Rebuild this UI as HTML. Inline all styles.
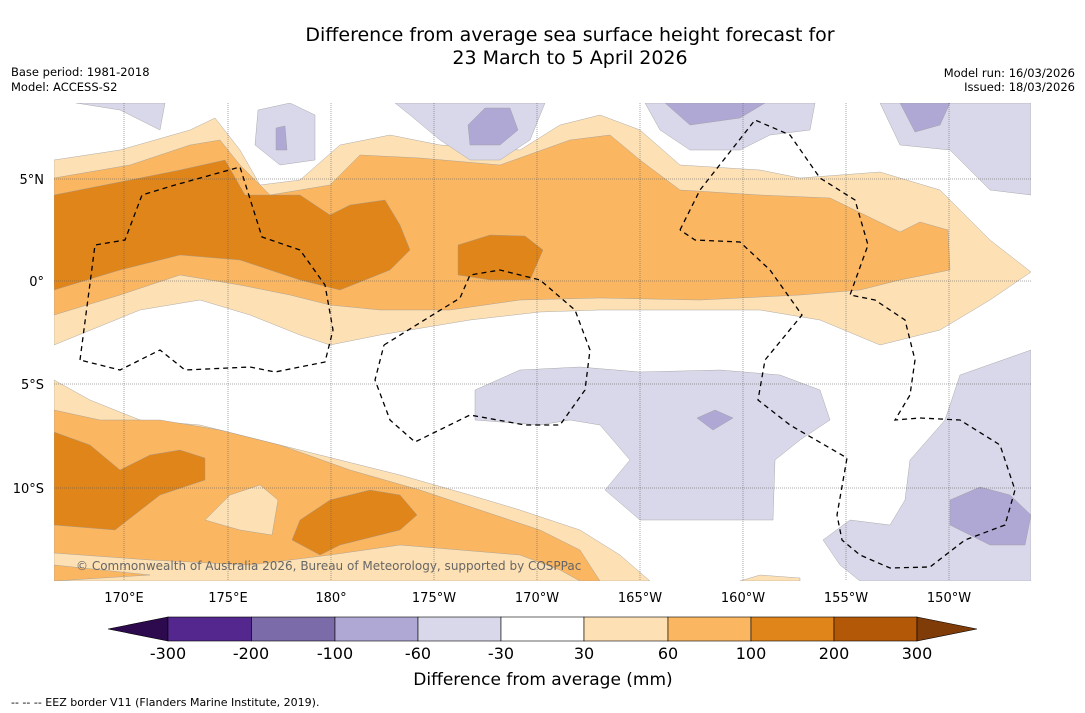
<!DOCTYPE html>
<html><head><meta charset="utf-8"><style>
body{margin:0;background:#fff;width:1085px;height:713px;overflow:hidden;font-family:"DejaVu Sans","Liberation Sans",sans-serif}
svg{position:absolute;left:0;top:0}
</style></head><body>
<svg width="1085" height="713" viewBox="0 0 1085 713">
<text x="570" y="41" font-size="19" text-anchor="middle">Difference from average sea surface height forecast for</text>
<text x="570" y="64" font-size="19" text-anchor="middle">23 March to 5 April 2026</text>
<text x="11" y="76" font-size="11.5">Base period: 1981-2018</text>
<text x="11" y="91" font-size="11.5">Model: ACCESS-S2</text>
<text x="1075" y="77" font-size="11.5" text-anchor="end">Model run: 16/03/2026</text>
<text x="1075" y="91" font-size="11.5" text-anchor="end">Issued: 18/03/2026</text>
<defs><clipPath id="mc"><rect x="54" y="103" width="977" height="478"/></clipPath></defs>
<g clip-path="url(#mc)" stroke="#999" stroke-width="0.4">
<rect x="54" y="103" width="977" height="478" fill="#fff" stroke="none"/>
<path fill="#fde0b4" d="M54,160 L120,150 L190,130 L215,118 L240,150 L260,185 L300,180 L340,145 L390,135 L440,145 L520,150 L560,125 L600,115 L640,130 L680,165 L760,170 L800,178 L880,172 L940,190 L990,240 L1031,272 L990,300 L940,330 L880,345 L820,320 L760,310 L680,310 L600,310 L540,312 L470,320 L380,335 L330,345 L300,335 L250,315 L200,300 L140,310 L54,345Z"/>
<path fill="#fbb661" d="M54,178 L130,165 L190,145 L220,140 L240,165 L270,195 L330,185 L360,155 L420,158 L500,165 L570,140 L610,135 L640,160 L680,190 L760,195 L830,198 L900,232 L920,222 L948,230 L950,270 L900,280 L860,290 L800,295 L700,300 L600,298 L520,300 L450,310 L380,310 L330,305 L290,295 L240,285 L180,275 L120,295 L54,315Z"/>
<path fill="#e08519" d="M54,195 L130,180 L180,170 L225,160 L245,195 L300,195 L330,215 L350,205 L385,200 L400,225 L410,250 L390,270 L340,290 L300,280 L240,260 L180,255 L120,270 L54,290Z"/>
<path fill="#e08519" d="M458,245 L490,235 L525,236 L543,250 L530,280 L490,280 L458,275Z"/>
<path fill="#fde0b4" d="M54,380 L90,400 L140,420 L200,425 L260,440 L340,460 L400,475 L470,495 L520,510 L580,530 L620,555 L650,581 L54,581Z"/>
<path fill="#fbb661" d="M54,410 L100,420 L160,420 L220,430 L280,445 L350,470 L420,490 L480,510 L540,530 L580,550 L600,581 L54,581Z"/>
<path fill="#fde0b4" d="M54,553 L150,560 L250,565 L330,555 L400,545 L460,550 L520,555 L560,570 L580,581 L54,581Z"/>
<path fill="#fbb661" d="M54,565 L150,575 L54,581Z"/>
<path fill="#e08519" d="M54,432 L90,445 L120,470 L150,455 L180,450 L205,458 L205,480 L160,495 L115,530 L54,525Z"/>
<path fill="#e08519" d="M292,540 L300,520 L330,500 L370,490 L400,495 L417,515 L400,530 L340,545 L320,555Z"/>
<path fill="#fde0b4" d="M205,520 L230,495 L260,485 L278,500 L272,535 L240,530Z"/>
<path fill="#fde0b4" d="M740,581 L760,575 L800,578 L800,581Z"/>
<path fill="#d8d8ea" d="M76,103 L165,103 L160,130 L120,110Z"/>
<path fill="#d8d8ea" d="M258,110 L290,103 L315,115 L315,160 L280,165 L255,145Z"/>
<path fill="#b0a8d4" d="M276,128 L285,126 L287,150 L276,150Z"/>
<path fill="#d8d8ea" d="M395,103 L545,103 L530,140 L500,160 L470,160 L440,140 L410,115Z"/>
<path fill="#b0a8d4" d="M468,125 L485,108 L510,108 L518,130 L500,145 L470,145Z"/>
<path fill="#d8d8ea" d="M645,103 L815,103 L810,130 L770,135 L740,150 L690,150 L660,130Z"/>
<path fill="#b0a8d4" d="M665,103 L765,103 L740,118 L690,125Z"/>
<path fill="#d8d8ea" d="M880,103 L1031,103 L1031,195 L990,190 L950,150 L900,145Z"/>
<path fill="#b0a8d4" d="M900,103 L950,103 L940,125 L915,132Z"/>
<path fill="#d8d8ea" d="M475,390 L520,370 L580,367 L640,372 L720,370 L780,375 L820,390 L830,420 L800,440 L775,460 L773,520 L700,520 L640,520 L605,490 L630,460 L600,425 L570,420 L540,425 L475,420Z"/>
<path fill="#b0a8d4" d="M697,418 L715,410 L733,418 L713,430Z"/>
<path fill="#d8d8ea" d="M823,540 L850,520 L890,525 L905,500 L910,460 L945,420 L960,375 L1031,350 L1031,581 L860,581 L840,565Z"/>
<path fill="#b0a8d4" d="M950,500 L980,487 L1010,495 L1031,515 L1025,545 L990,545 L950,525Z"/>
</g>
<g stroke="#555" stroke-width="0.5" stroke-dasharray="1,1">
<line x1="124" y1="103" x2="124" y2="581"/><line x1="228" y1="103" x2="228" y2="581"/><line x1="331" y1="103" x2="331" y2="581"/><line x1="434" y1="103" x2="434" y2="581"/><line x1="537" y1="103" x2="537" y2="581"/><line x1="640" y1="103" x2="640" y2="581"/><line x1="743" y1="103" x2="743" y2="581"/><line x1="846" y1="103" x2="846" y2="581"/><line x1="949" y1="103" x2="949" y2="581"/>
<line x1="54" y1="179" x2="1031" y2="179"/><line x1="54" y1="281" x2="1031" y2="281"/><line x1="54" y1="384" x2="1031" y2="384"/><line x1="54" y1="488" x2="1031" y2="488"/>
</g>
<g fill="none" stroke="#000" stroke-width="1.3" stroke-dasharray="5,4">
<path d="M80,360 L95,245 L125,240 L142,195 L175,185 L240,167 L262,237 L300,250 L325,285 L333,330 L325,362 L275,372 L250,367 L185,370 L160,350 L120,370 L80,360"/>
<path d="M384,345 L460,298 L470,275 L500,270 L540,280 L575,310 L590,350 L585,390 L560,425 L525,425 L470,415 L415,442 L390,420 L375,380 L384,345"/>
<path d="M680,230 L700,190 L755,120 L790,135 L820,178 L855,200 L868,245 L850,295 L875,300 L905,320 L915,360 L910,395 L895,420 L920,418 L960,420 L1000,445 L1015,490 L1005,525 L965,540 L930,567 L890,568 L860,555 L842,540 L837,515 L847,458 L790,425 L758,400 L765,360 L802,315 L770,270 L740,242 L695,240 L680,230"/>
</g>
<g font-size="13" fill="#000">
<text x="44" y="184" text-anchor="end">5°N</text><text x="44" y="286" text-anchor="end">0°</text><text x="44" y="389" text-anchor="end">5°S</text><text x="44" y="493" text-anchor="end">10°S</text>
<text x="124" y="602" text-anchor="middle">170°E</text><text x="228" y="602" text-anchor="middle">175°E</text><text x="331" y="602" text-anchor="middle">180°</text><text x="434" y="602" text-anchor="middle">175°W</text><text x="537" y="602" text-anchor="middle">170°W</text><text x="640" y="602" text-anchor="middle">165°W</text><text x="743" y="602" text-anchor="middle">160°W</text><text x="846" y="602" text-anchor="middle">155°W</text><text x="949" y="602" text-anchor="middle">150°W</text>
</g>
<text x="76" y="570" font-size="12" fill="#666">© Commonwealth of Australia 2026, Bureau of Meteorology, supported by COSPPac</text>
<g stroke="#000" stroke-width="0.6">
<polygon points="108,629 168,617 168,641" fill="#2d0a4e"/>
<rect x="168" y="617" width="83.5" height="24" fill="#54278f"/>
<rect x="251.5" y="617" width="83.5" height="24" fill="#7c6ba9"/>
<rect x="335" y="617" width="83" height="24" fill="#b0a8d4"/>
<rect x="418" y="617" width="83" height="24" fill="#d8d8ea"/>
<rect x="501" y="617" width="83" height="24" fill="#ffffff"/>
<rect x="584" y="617" width="84" height="24" fill="#fde0b4"/>
<rect x="668" y="617" width="83" height="24" fill="#fbb661"/>
<rect x="751" y="617" width="83" height="24" fill="#e08519"/>
<rect x="834" y="617" width="83" height="24" fill="#b35806"/>
<polygon points="917,617 977,629 917,641" fill="#7f3b08"/>
</g>
<g font-size="16" text-anchor="middle">
<text x="168" y="659">-300</text><text x="251" y="659">-200</text><text x="335" y="659">-100</text><text x="418" y="659">-60</text><text x="501" y="659">-30</text><text x="584" y="659">30</text><text x="668" y="659">60</text><text x="751" y="659">100</text><text x="834" y="659">200</text><text x="917" y="659">300</text>
</g>
<text x="543" y="685" font-size="17" text-anchor="middle">Difference from average (mm)</text>
<text x="11" y="706" font-size="11">-- -- -- EEZ border V11 (Flanders Marine Institute, 2019).</text>
</svg>
</body></html>
